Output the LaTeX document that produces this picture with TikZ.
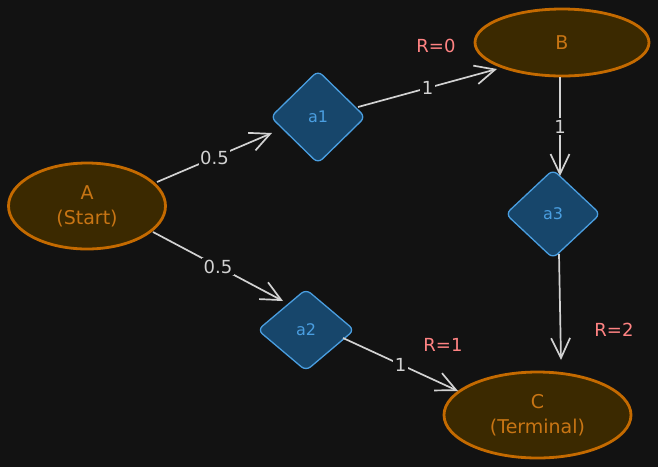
\documentclass[tikz,border=0pt]{standalone}
\usepackage{fontspec}
\setmainfont{DejaVu Sans}
\usetikzlibrary{shapes.geometric,arrows.meta}
\definecolor{bg}{HTML}{121212}
\definecolor{stateline}{HTML}{C46A00}
\definecolor{statefill}{HTML}{3B2900}
\definecolor{statetext}{HTML}{C87514}
\definecolor{actline}{HTML}{4A9EE0}
\definecolor{actfill}{HTML}{17466B}
\definecolor{edgec}{HTML}{D2D2D2}
\definecolor{rewc}{HTML}{FF8383}
\begin{document}
\begin{tikzpicture}[x=1pt,y=-1pt,
  state/.style={ellipse, draw=stateline, fill=statefill, line width=2.8pt, text=statetext,
    inner sep=0pt, align=center, font=\fontsize{19}{25}\selectfont},
  act/.style={diamond, draw=actline, fill=actfill, line width=1.3pt, rounded corners=6pt,
    text=actline, inner sep=0pt, font=\fontsize{16}{18}\selectfont},
  edge/.style={draw=edgec, line width=1.7pt, -{Straight Barb[length=20pt,width=19pt]}},
  lbl/.style={fill=bg, text=edgec, inner sep=1.5pt, font=\fontsize{18}{20}\selectfont},
  rew/.style={text=rewc, inner sep=0pt, font=\fontsize{18}{20}\selectfont}]
\fill[bg] (0,0) rectangle (658,467);
\useasboundingbox (0,0) rectangle (658,467);

\node[state, minimum width=157pt, minimum height=86pt] (A) at (87,206) {A\\(Start)};
\node[state, minimum width=174pt, minimum height=67pt] (B) at (562,42.5) {B};
\node[state, minimum width=187pt, minimum height=86pt] (C) at (537.5,415) {C\\(Terminal)};

\node[act, minimum width=95pt, minimum height=93pt] (a1) at (318,117) {a1};
\node[act, minimum width=97pt, minimum height=82pt] (a2) at (306,330) {a2};
\node[act, minimum width=95pt, minimum height=89pt] (a3) at (553,214) {a3};

\draw[edge] ([shift={(70,-24)}]A.center) -- node[lbl] (l1) {0.5} ([shift={(-46,16)}]a1.center);
\draw[edge] ([shift={(66,26)}]A.center) -- node[lbl] (l2) {0.5} ([shift={(-23,-29)}]a2.center);
\draw[edge] ([shift={(40,-10)}]a1.center) -- node[lbl] (l3) {1} ([shift={(-65,26.5)}]B.center);
\draw[edge] ([shift={(-2,34.5)}]B.center) -- node[lbl] (l4) {1} ([shift={(7,-38)}]a3.center);
\draw[edge] ([shift={(6,40)}]a3.center) -- ([shift={(23.5,-55)}]C.center);
\draw[edge] ([shift={(37,8)}]a2.center) -- node[lbl] (l5) {1} ([shift={(-79.5,-24)}]C.center);

\node[rew] (r0) at (436,46) {R=0};
\node[rew] (r1) at (443,345) {R=1};
\node[rew] (r2) at (614,330) {R=2};
\end{tikzpicture}
\end{document}
